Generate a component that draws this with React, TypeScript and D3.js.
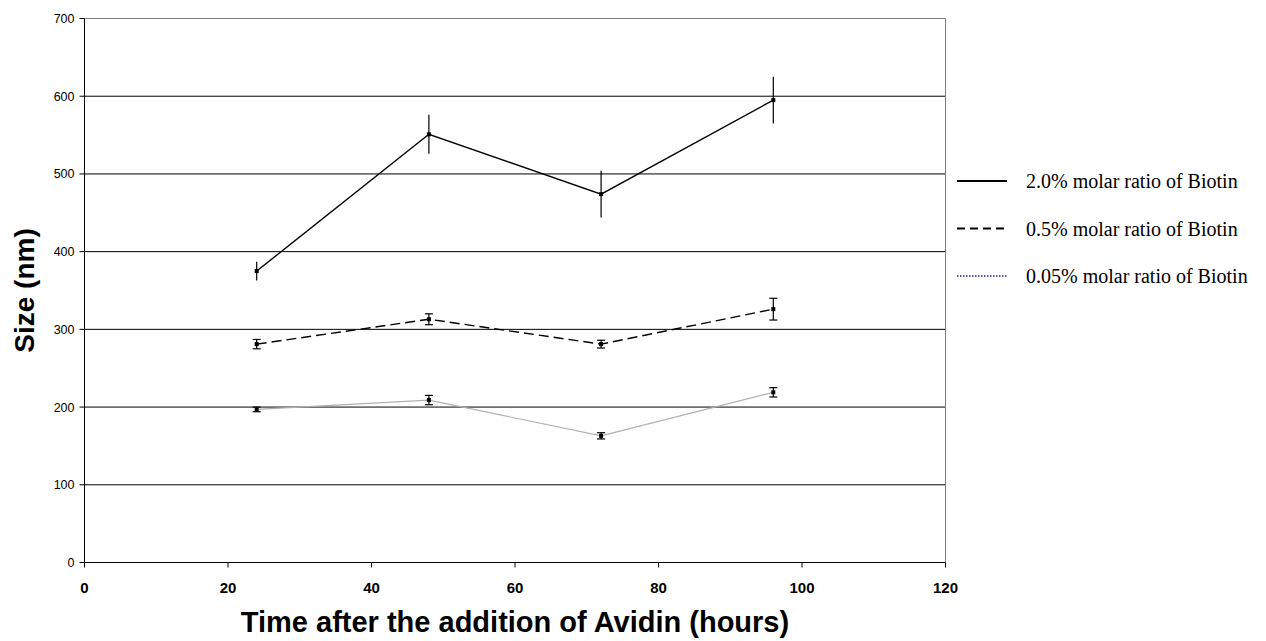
import React from 'react';
import * as d3 from 'd3';

const hours = [24, 48, 72, 96];
const series20 = [375, 551, 474, 595];
const err20 = [12, 25, 30, 30];
const series05 = [281, 313, 281, 326];
const err05 = [6, 7, 5, 14];
const series005 = [197, 209, 163, 219];
const err005 = [3, 6, 4, 6];
const xTicks = [0, 20, 40, 60, 80, 100, 120];
const yTicks = [0, 100, 200, 300, 400, 500, 600, 700];
const legendLabels = ['2.0% molar ratio of Biotin', '0.5% molar ratio of Biotin', '0.05% molar ratio of Biotin'];

const W = 1266;
const H = 641;

export default function App() {
  const x = d3.scaleLinear().domain([0, 120]).range([84.5, 945.5]);
  const y = d3.scaleLinear().domain([0, 700]).range([562.5, 18.5]);
  const line = d3.line<number>().x((d, i) => x(hours[i])).y(d => y(d));

  const series = [
    { vals: series20, errs: err20, stroke: '#000', dash: null, caps: false, width: 1.4 },
    { vals: series05, errs: err05, stroke: '#000', dash: '10,5', caps: true, width: 1.4 },
    { vals: series005, errs: err005, stroke: '#b0b0b0', dash: null, caps: true, width: 1.2 },
  ];

  const legendStyles = [
    { stroke: '#000', dash: null, width: 1.8 },
    { stroke: '#000', dash: '8,5', width: 1.8 },
    { stroke: '#1a1aa0', dash: '1.5,1.5', width: 1.3 },
  ];

  return (
    <svg width={W} height={H} style={{ position: 'absolute', left: 0, top: 0, background: '#fff' }}>
      {/* grid */}
      {yTicks.filter(t => t > 0 && t < 700).map(t => (
        <line key={t} x1={x(0)} x2={x(120)} y1={y(t)} y2={y(t)} stroke="#000" strokeWidth={1} />
      ))}
      <line x1={x(0)} x2={x(120)} y1={y(700)} y2={y(700)} stroke="#808080" strokeWidth={1} />
      <line x1={x(120)} x2={x(120)} y1={y(700)} y2={y(0)} stroke="#808080" strokeWidth={1} />

      {/* axes */}
      <line x1={x(0)} x2={x(0)} y1={y(700)} y2={y(0)} stroke="#000" strokeWidth={1} />
      <line x1={x(0)} x2={x(120)} y1={y(0)} y2={y(0)} stroke="#000" strokeWidth={1} />
      {yTicks.map(t => (
        <g key={t}>
          <line x1={x(0) - 5} x2={x(0)} y1={y(t)} y2={y(t)} stroke="#000" />
          <text x={x(0) - 10} y={y(t) + 4.5} textAnchor="end" fontFamily="Arial, 'Liberation Sans'" fontSize={12.5}>{t}</text>
        </g>
      ))}
      {xTicks.map(t => (
        <g key={t}>
          <line x1={x(t)} x2={x(t)} y1={y(0)} y2={y(0) + 5} stroke="#000" />
          <text x={x(t)} y={593} textAnchor="middle" fontFamily="Arial, 'Liberation Sans'" fontWeight="bold" fontSize={15}>{t}</text>
        </g>
      ))}

      {/* series */}
      {series.map((s, si) => (
        <g key={si}>
          <path d={line(s.vals) || ''} fill="none" stroke={s.stroke} strokeWidth={s.width} strokeDasharray={s.dash || undefined} />
          {s.vals.map((v, i) => (
            <g key={i}>
              <line x1={x(hours[i])} x2={x(hours[i])} y1={y(v + s.errs[i])} y2={y(v - s.errs[i])} stroke="#000" strokeWidth={1.2} />
              {s.caps && (
                <>
                  <line x1={x(hours[i]) - 4} x2={x(hours[i]) + 4} y1={y(v + s.errs[i])} y2={y(v + s.errs[i])} stroke="#000" strokeWidth={1.2} />
                  <line x1={x(hours[i]) - 4} x2={x(hours[i]) + 4} y1={y(v - s.errs[i])} y2={y(v - s.errs[i])} stroke="#000" strokeWidth={1.2} />
                </>
              )}
              <rect x={x(hours[i]) - 2} y={y(v) - 2} width={4} height={4} fill="#000" />
            </g>
          ))}
        </g>
      ))}

      {/* legend */}
      {legendLabels.map((l, i) => (
        <g key={l} transform={`translate(957, ${181 + i * 47.5})`}>
          <line x1={0} x2={50} y1={0} y2={0} stroke={legendStyles[i].stroke} strokeWidth={legendStyles[i].width} strokeDasharray={legendStyles[i].dash || undefined} />
          <text x={69} y={7} fontFamily="'Times New Roman', 'Liberation Serif'" fontSize={20}>{l}</text>
        </g>
      ))}

      {/* titles */}
      <text transform={`translate(34, ${y(350)}) rotate(-90)`} textAnchor="middle" fontFamily="Arial, 'Liberation Sans'" fontWeight="bold" fontSize={28}>Size (nm)</text>
      <text x={515} y={632} textAnchor="middle" fontFamily="Arial, 'Liberation Sans'" fontWeight="bold" fontSize={29}>Time after the addition of Avidin (hours)</text>
    </svg>
  );
}
